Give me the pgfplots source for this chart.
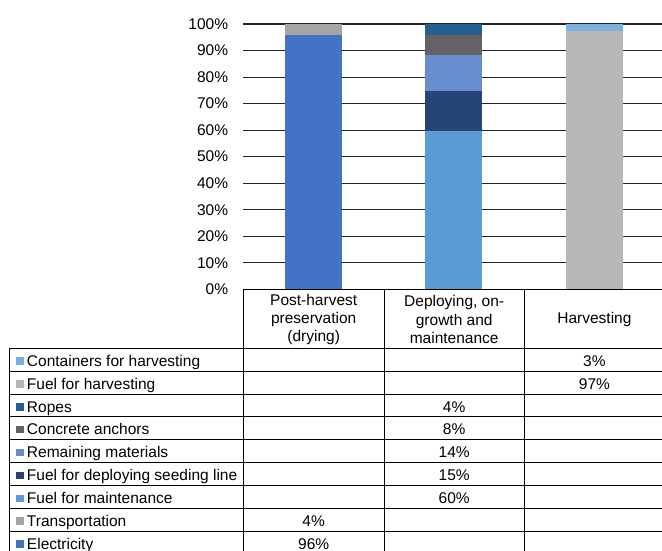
\documentclass[border=0pt]{standalone}
\usepackage{pgfplots}
\pgfplotsset{compat=1.18}
\usepackage{fontspec}
\setmainfont{Liberation Sans}
\definecolor{cElec}{HTML}{4472C4}
\definecolor{cTrans}{HTML}{A5A5A5}
\definecolor{cFM}{HTML}{5B9BD5}
\definecolor{cFD}{HTML}{264478}
\definecolor{cRM}{HTML}{698ED0}
\definecolor{cCA}{HTML}{636363}
\definecolor{cRopes}{HTML}{255E91}
\definecolor{cFH}{HTML}{B7B7B7}
\definecolor{cCont}{HTML}{7CAFDD}
\newcommand{\sq}[1]{\textcolor{#1}{\rule[1.5bp]{7.5bp}{7.5bp}}\hspace{3bp}}
\begin{document}
\fontsize{15.5bp}{18.3bp}\selectfont
\begin{tikzpicture}
\begin{axis}[
  at={(243.3bp,-289.3bp)}, anchor=south west,
  scale only axis, width=421.2bp, height=265.3bp,
  ybar stacked, bar width=57bp,
  xmin=-0.5, xmax=2.5, ymin=0, ymax=100,
  ytick={0,10,...,100},
  yticklabel={\pgfmathprintnumber{\tick}\%},
  /pgf/number format/assume math mode=true,
  xtick=\empty,
  ymajorgrids, grid style={black!85, line width=1.1bp},
  axis line style={draw=none},
  major tick length=0pt,
  yticklabel style={font=\fontsize{15.5bp}{18bp}\selectfont, inner sep=0pt, xshift=-15bp},
  clip=false,
]
\addplot[fill=cElec, draw=none] coordinates {(0,96) (1,0) (2,0)};
\addplot[fill=cTrans, draw=none] coordinates {(0,4) (1,0) (2,0)};
\addplot[fill=cFM, draw=none] coordinates {(0,0) (1,59.7) (2,0)};
\addplot[fill=cFD, draw=none] coordinates {(0,0) (1,15.0) (2,0)};
\addplot[fill=cRM, draw=none] coordinates {(0,0) (1,13.6) (2,0)};
\addplot[fill=cCA, draw=none] coordinates {(0,0) (1,7.5) (2,0)};
\addplot[fill=cRopes, draw=none] coordinates {(0,0) (1,4.2) (2,0)};
\addplot[fill=cFH, draw=none] coordinates {(0,0) (1,0) (2,97.3)};
\addplot[fill=cCont, draw=none] coordinates {(0,0) (1,0) (2,2.7)};
\end{axis}
\begin{scope}[x=1bp,y=1bp]
% header row
\draw[black, line width=1.1bp] (243.3,-289.3) -- (664.5,-289.3);
\foreach \xx in {243.3,384,524.3,664.5} \draw[black, line width=1bp] (\xx,-289.3) -- (\xx,-348.3);
\node[align=center, inner sep=0pt] at (313.7,-319.5) {Post-harvest\\preservation\\(drying)};
\node[align=center, inner sep=0pt] at (454.2,-319.5) {Deploying, on-\\growth and\\maintenance};
\node[align=center, inner sep=0pt] at (594.4,-319.5) {Harvesting};
% data rows
\foreach \k in {0,...,9} \draw[black, line width=1bp] (9,-348.3-22.87*\k) -- (664.5,-348.3-22.87*\k);
\foreach \xx in {9,243.3,384,524.3,664.5} \draw[black, line width=1bp] (\xx,-348.3) -- (\xx,-560);
\foreach \k/\c/\t in {0/cCont/Containers for harvesting, 1/cFH/Fuel for harvesting, 2/cRopes/Ropes, 3/cCA/Concrete anchors, 4/cRM/Remaining materials, 5/cFD/Fuel for deploying seeding line, 6/cFM/Fuel for maintenance, 7/cTrans/Transportation, 8/cElec/Electricity}
  \node[anchor=base west, inner sep=0pt] at (16.3,-366.3-22.87*\k) {\sq{\c}\t};
\foreach \k/\xx/\t in {0/594.4/3\%, 1/594.4/97\%, 2/454.2/4\%, 3/454.2/8\%, 4/454.2/14\%, 5/454.2/15\%, 6/454.2/60\%, 7/313.7/4\%, 8/313.7/96\%}
  \node[anchor=base, inner sep=0pt] at (\xx,-366.3-22.87*\k) {\t};
\end{scope}
\pgfresetboundingbox
\useasboundingbox (0,0) rectangle (662bp,-551bp);
\end{tikzpicture}
\end{document}
